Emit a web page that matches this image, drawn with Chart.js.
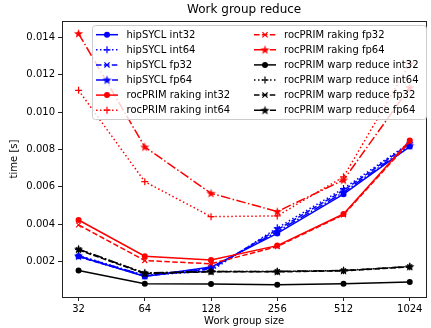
<!DOCTYPE html>
<html>
<head>
<meta charset="utf-8">
<script src="https://cdn.jsdelivr.net/npm/chart.js@4/dist/chart.umd.min.js"></script>
<style>
  html, body { margin: 0; padding: 0; background: #fff; }
  #wrap { width: 431px; height: 328px; }
</style>
</head>
<body>
<div id="wrap"><canvas id="myChart" width="431" height="328"></canvas></div>
<script>
// work group sizes (x axis, log2)
var sizes = [32, 64, 128, 256, 512, 1024];
var yTicks = [0.002, 0.004, 0.006, 0.008, 0.010, 0.012, 0.014];

// times in seconds
var hipsyclInt32 = [0.00228, 0.00120, 0.00170, 0.00350, 0.00560, 0.00815];
var hipsyclInt64 = [0.00232, 0.00125, 0.00150, 0.00380, 0.00590, 0.00835];
var hipsyclFp32  = [0.00225, 0.00122, 0.00160, 0.00370, 0.00580, 0.00830];
var hipsyclFp64  = [0.00230, 0.00124, 0.00165, 0.00360, 0.00570, 0.00820];
var rakingInt32  = [0.00422, 0.00228, 0.00208, 0.00285, 0.00454, 0.00848];
var rakingInt64  = [0.01116, 0.00627, 0.00440, 0.00444, 0.00653, 0.01260];
var rakingFp32   = [0.00396, 0.00205, 0.00188, 0.00280, 0.00450, 0.00840];
var rakingFp64   = [0.01420, 0.00813, 0.00565, 0.00467, 0.00636, 0.01130];
var warpInt32    = [0.00152, 0.00081, 0.00079, 0.00076, 0.00081, 0.00090];
var warpInt64    = [0.00265, 0.00138, 0.00146, 0.00146, 0.00151, 0.00172];
var warpFp32     = [0.00262, 0.00135, 0.00145, 0.00145, 0.00150, 0.00171];
var warpFp64     = [0.00266, 0.00138, 0.00147, 0.00147, 0.00152, 0.00173];

var FONT = "'DejaVu Sans', sans-serif";

// filled 5 point star like matplotlib '*'
function makeStar(color) {
    var c = document.createElement('canvas');
    c.width = 11; c.height = 11;
    var g = c.getContext('2d');
    g.fillStyle = color;
    g.beginPath();
    for (var k = 0; k < 10; k++) {
        var r = (k % 2) ? 2.0 : 4.8;
        var a = -Math.PI / 2 + k * Math.PI / 5;
        g.lineTo(5.5 + r * Math.cos(a), 5.8 + r * Math.sin(a));
    }
    g.closePath();
    g.fill();
    return c;
}
var stars = { red: makeStar('#ff0000'), blue: makeStar('#0000ff'), black: makeStar('#000000') };
var colors = { red: '#ff0000', blue: '#0000ff', black: '#000000' };

var dashes = {
    solid: [],
    dotted: [1.5, 2.5],
    dashed: [5.5, 2.4],
    dashdot: [9.6, 2.4, 1.5, 2.4]
};

function series(label, data, col, dash, marker) {
    var ps = marker === 'star' ? stars[col] : marker;
    return {
        label: label,
        data: data.map(function (v, i) { return { x: sizes[i], y: v }; }),
        borderColor: colors[col],
        backgroundColor: colors[col],
        borderWidth: 1.5,
        borderDash: dashes[dash],
        pointStyle: ps,
        pointRadius: marker === 'circle' ? 3 : 3.5,
        pointHoverRadius: marker === 'circle' ? 3 : 3.5,
        pointBackgroundColor: colors[col],
        pointBorderColor: colors[col],
        pointBorderWidth: marker === 'circle' ? 0 : 1.2,
        fill: false,
        tension: 0,
        _marker: marker,
        _col: col
    };
}

var datasets = [
    series('hipSYCL int32', hipsyclInt32, 'blue', 'solid', 'circle'),
    series('hipSYCL int64', hipsyclInt64, 'blue', 'dotted', 'cross'),
    series('hipSYCL fp32', hipsyclFp32, 'blue', 'dashed', 'crossRot'),
    series('hipSYCL fp64', hipsyclFp64, 'blue', 'dashdot', 'star'),
    series('rocPRIM raking int32', rakingInt32, 'red', 'solid', 'circle'),
    series('rocPRIM raking int64', rakingInt64, 'red', 'dotted', 'cross'),
    series('rocPRIM raking fp32', rakingFp32, 'red', 'dashed', 'crossRot'),
    series('rocPRIM raking fp64', rakingFp64, 'red', 'dashdot', 'star'),
    series('rocPRIM warp reduce int32', warpInt32, 'black', 'solid', 'circle'),
    series('rocPRIM warp reduce int64', warpInt64, 'black', 'dotted', 'cross'),
    series('rocPRIM warp reduce fp32', warpFp32, 'black', 'dashed', 'crossRot'),
    series('rocPRIM warp reduce fp64', warpFp64, 'black', 'dashdot', 'star')
];
// later series drawn on top, like matplotlib
for (var i = 0; i < datasets.length; i++) {
    datasets[i].order = datasets.length - i;
}

function drawMarker(ctx, ds, x, y) {
    var col = colors[ds._col];
    ctx.save();
    ctx.setLineDash([]);
    ctx.fillStyle = col;
    ctx.strokeStyle = col;
    ctx.lineWidth = 1.2;
    if (ds._marker === 'circle') {
        ctx.beginPath();
        ctx.arc(x, y, 3, 0, Math.PI * 2);
        ctx.fill();
    } else if (ds._marker === 'cross') {
        ctx.beginPath();
        ctx.moveTo(x - 3.5, y); ctx.lineTo(x + 3.5, y);
        ctx.moveTo(x, y - 3.5); ctx.lineTo(x, y + 3.5);
        ctx.stroke();
    } else if (ds._marker === 'crossRot') {
        ctx.beginPath();
        ctx.moveTo(x - 2.6, y - 2.6); ctx.lineTo(x + 2.6, y + 2.6);
        ctx.moveTo(x - 2.6, y + 2.6); ctx.lineTo(x + 2.6, y - 2.6);
        ctx.stroke();
    } else {
        ctx.drawImage(stars[ds._col], x - 5.5, y - 5.5);
    }
    ctx.restore();
}

// frame + legend inside the axes
var framePlugin = {
    id: 'frameLegend',
    afterDraw: function (chart) {
        var ctx = chart.ctx;
        var a = chart.chartArea;
        ctx.save();
        ctx.strokeStyle = '#222';
        ctx.lineWidth = 1;
        ctx.strokeRect(Math.round(a.left) + 0.5, Math.round(a.top) + 0.5,
            Math.round(a.right - a.left), Math.round(a.bottom - a.top));

        // legend box
        var bx = 92.5, by = 25.5, bw = 334, bh = 94, r = 3;
        ctx.beginPath();
        ctx.moveTo(bx + r, by);
        ctx.lineTo(bx + bw - r, by);
        ctx.quadraticCurveTo(bx + bw, by, bx + bw, by + r);
        ctx.lineTo(bx + bw, by + bh - r);
        ctx.quadraticCurveTo(bx + bw, by + bh, bx + bw - r, by + bh);
        ctx.lineTo(bx + r, by + bh);
        ctx.quadraticCurveTo(bx, by + bh, bx, by + bh - r);
        ctx.lineTo(bx, by + r);
        ctx.quadraticCurveTo(bx, by, bx + r, by);
        ctx.closePath();
        ctx.fillStyle = 'rgba(255,255,255,0.8)';
        ctx.fill();
        ctx.strokeStyle = '#cccccc';
        ctx.stroke();

        var cols = [{ x0: 96, x1: 118, tx: 126.5 }, { x0: 254, x1: 276, tx: 284 }];
        ctx.font = '10px ' + FONT;
        ctx.textBaseline = 'middle';
        ctx.textAlign = 'left';
        chart.data.datasets.forEach(function (ds, i) {
            var c = cols[Math.floor(i / 6)];
            var y = 34.7 + (i % 6) * 15.1;
            ctx.save();
            ctx.strokeStyle = colors[ds._col];
            ctx.lineWidth = 1.5;
            ctx.setLineDash(ds.borderDash);
            ctx.beginPath();
            ctx.moveTo(c.x0, y);
            ctx.lineTo(c.x1, y);
            ctx.stroke();
            ctx.restore();
            drawMarker(ctx, ds, (c.x0 + c.x1) / 2, y);
            ctx.fillStyle = '#000';
            ctx.fillText(ds.label, c.tx, y + 0.5);
        });
        ctx.restore();
    }
};

var ctx = document.getElementById('myChart').getContext('2d');
var myChart = new Chart(ctx, {
    type: 'line',
    data: { datasets: datasets },
    plugins: [framePlugin],
    options: {
        responsive: false,
        animation: false,
        events: [],
        layout: { padding: { top: 0, right: 2, bottom: 0, left: 0 } },
        plugins: {
            legend: { display: false },
            tooltip: { enabled: false },
            title: {
                display: true,
                text: 'Work group reduce',
                color: '#000',
                fullSize: false,
                font: { family: FONT, size: 12, weight: 'normal' },
                padding: { top: 3, bottom: 3.6 }
            }
        },
        scales: {
            x: {
                type: 'logarithmic',
                min: 32 / Math.pow(2, 0.25),
                max: 1024 * Math.pow(2, 0.25),
                afterBuildTicks: function (scale) {
                    scale.ticks = sizes.map(function (v) { return { value: v }; });
                },
                afterFit: function (scale) { scale.height = 31; },
                border: { display: false },
                grid: { drawOnChartArea: false, drawTicks: true, tickLength: 4, tickColor: '#222' },
                ticks: {
                    color: '#000',
                    padding: 2,
                    maxRotation: 0,
                    autoSkip: false,
                    font: { family: FONT, size: 10 },
                    callback: function (v) { return String(v); }
                },
                title: {
                    display: true,
                    text: 'Work group size',
                    color: '#000',
                    font: { family: FONT, size: 10 },
                    padding: { top: 0, bottom: 1 }
                }
            },
            y: {
                min: 0.0001,
                max: 0.01487,
                afterBuildTicks: function (scale) {
                    scale.ticks = yTicks.map(function (v) { return { value: v }; });
                },
                afterFit: function (scale) { scale.width = 62; },
                border: { display: false },
                grid: { drawOnChartArea: false, drawTicks: true, tickLength: 4, tickColor: '#222' },
                ticks: {
                    color: '#000',
                    padding: 3,
                    font: { family: FONT, size: 10 },
                    callback: function (v) { return Number(v).toFixed(3); }
                },
                title: {
                    display: true,
                    text: 'time [s]',
                    color: '#000',
                    font: { family: FONT, size: 10 },
                    padding: { top: 8, bottom: 0 }
                }
            }
        }
    }
});
</script>
</body>
</html>
